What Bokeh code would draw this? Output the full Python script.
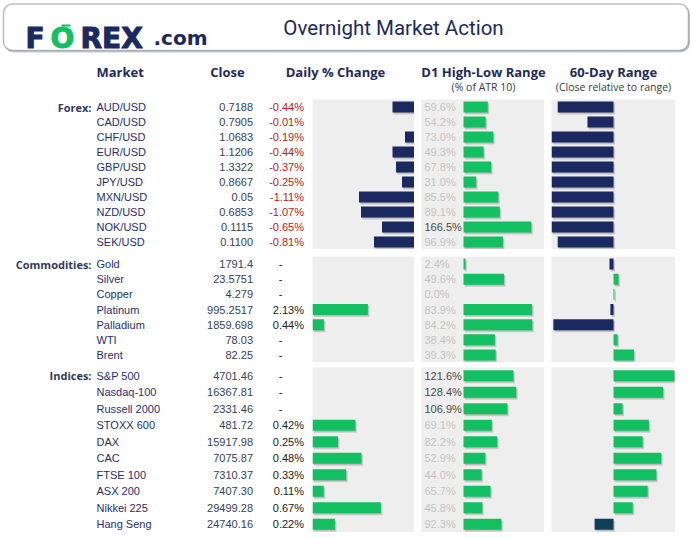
from bokeh.plotting import figure
from bokeh.layouts import column, row
from bokeh.models import Spacer, BoxAnnotation, ColumnDataSource, Range1d
from bokeh.transform import dodge
from bokeh.core.properties import value
from bokeh.embed import file_html
from bokeh.resources import INLINE

# ---------------- data ----------------
fx_names = ["AUD/USD", "CAD/USD", "CHF/USD", "EUR/USD", "GBP/USD",
            "JPY/USD", "MXN/USD", "NZD/USD", "NOK/USD", "SEK/USD"]
fx_close = ["0.7188", "0.7905", "1.0683", "1.1206", "1.3322",
            "0.8667", "0.05", "0.6853", "0.1115", "0.1100"]
fx_chg = [-0.44, -0.01, -0.19, -0.44, -0.37, -0.25, -1.11, -1.07, -0.65, -0.81]
fx_d1 = [59.6, 54.2, 73.0, 49.3, 67.8, 31.0, 85.5, 89.1, 166.5, 96.9]
fx_60d = [-90, -42, -100, -100, -100, -100, -100, -100, -100, -90]

cm_names = ["Gold", "Silver", "Copper", "Platinum", "Palladium", "WTI", "Brent"]
cm_close = ["1791.4", "23.5751", "4.279", "995.2517", "1859.698", "78.03", "82.25"]
cm_chg = [None, None, None, 2.13, 0.44, None, None]
cm_d1 = [2.4, 49.6, 0.0, 83.9, 84.2, 38.4, 39.3]
cm_60d = [-6.5, 8, 1.5, -5, -97, 6.5, 33]

ix_names = ["S&P 500", "Nasdaq-100", "Russell 2000", "STOXX 600", "DAX", "CAC",
            "FTSE 100", "ASX 200", "Nikkei 225", "Hang Seng"]
ix_close = ["4701.46", "16367.81", "2331.46", "481.72", "15917.98", "7075.87",
            "7310.37", "7407.30", "29499.28", "24740.16"]
ix_chg = [None, None, None, 0.42, 0.25, 0.48, 0.33, 0.11, 0.67, 0.22]
ix_d1 = [121.6, 128.4, 106.9, 69.1, 82.2, 52.9, 44.0, 65.7, 45.8, 92.3]
ix_60d = [98, 80, 14.5, 57, 47, 77, 69, 55, 31, -30.5]

section_labels = ["Forex:", "Commodities:", "Indices:"]
col_headers = ["Market", "Close", "Daily % Change", "D1 High-Low Range", "60-Day Range"]
col_subheaders = ["(% of ATR 10)", "(Close relative to range)"]
title_text = "Overnight Market Action"

# ---------------- style ----------------
NAVY = "#1b2961"
GREEN = "#12c062"
PANEL = "#eeeeee"
HEAD = "#1d2a5c"
SPECIAL_60D = {"Hang Seng": "#0f3f58"}
SANS = value("Liberation Sans")
OPEN = value("Open Sans")
DJ = value("DejaVu Sans")

W_LEFT, W_DAY, W_D1, W_60 = 312, 102, 123, 124
GAP = 7
TW = 690


def base_fig(w, h, xr, yr, bg="white"):
    p = figure(width=w, height=h, x_range=xr, y_range=yr, output_backend="svg",
               toolbar_location=None, min_border=0, x_axis_location=None,
               y_axis_location=None)
    p.grid.visible = False
    p.outline_line_color = None
    p.background_fill_color = bg
    p.border_fill_color = "white"
    return p


def bars(p, src, field, color, ppu, rowpx, barpx=11):
    h = barpx / rowpx
    dx = 1.5 / ppu
    dy = 2.0 / rowpx
    p.hbar(y=dodge("y", dy), left=dx, right=dodge(field, dx), height=h, source=src,
           fill_color="#5a5a5a", fill_alpha=0.22, line_color=None)
    p.hbar(y=dodge("y", dy * 0.5), left=dx * 0.5, right=dodge(field, dx * 0.5), height=h,
           source=src, fill_color="#5a5a5a", fill_alpha=0.18, line_color=None)
    p.hbar(y="y", left=0, right=field, height=h, source=src, fill_color=color,
           line_color=None)


def section(label, names, close, chg, d1, r60, height, day_ppu, day_neg, d1_ppu):
    n = len(names)
    rowpx = height / n
    ys = list(range(n))

    def yr():
        return Range1d(n - 0.5, -0.5)

    # left text block
    left = base_fig(W_LEFT, height, Range1d(0, W_LEFT), yr())
    left.text(x=[91], y=[0], text=[label], text_font=OPEN, text_font_style="bold",
              text_font_size="11px", text_color="#2f385f", text_align="right",
              text_baseline="middle")
    src = ColumnDataSource(dict(y=ys, name=names, close=close))
    left.text(x=96, y="y", text="name", source=src, text_font=SANS,
              text_font_size="11px", text_color="#1f2f6e", text_align="left",
              text_baseline="middle")
    left.text(x=252.5, y="y", text="close", source=src, text_font=SANS,
              text_font_size="11px", text_color="#363d5a", text_align="right",
              text_baseline="middle")
    have = [i for i in ys if chg[i] is not None]
    miss = [i for i in ys if chg[i] is None]
    src_c = ColumnDataSource(dict(y=have, t=["%.2f%%" % chg[i] for i in have],
                                  c=["#c0141c" if chg[i] < 0 else "#1a1a1a" for i in have]))
    left.text(x=303.5, y="y", text="t", source=src_c, text_font=SANS,
              text_font_size="11px", text_color="c", text_align="right",
              text_baseline="middle")
    if miss:
        src_m = ColumnDataSource(dict(y=miss, t=["-"] * len(miss)))
        left.text(x=280, y="y", text="t", source=src_m, text_font=SANS,
                  text_font_size="11px", text_color="#1a1a1a", text_align="center",
                  text_baseline="middle")

    # daily change panel
    span = W_DAY / day_ppu
    xr = Range1d(-span, 0) if day_neg else Range1d(0, span)
    day = base_fig(W_DAY, height, xr, yr(), PANEL)
    src_d = ColumnDataSource(dict(y=have, v=[chg[i] for i in have]))
    bars(day, src_d, "v", NAVY if day_neg else GREEN, day_ppu, rowpx)

    # D1 high-low panel
    zero_px = 42
    d1f = base_fig(W_D1, height, Range1d(-zero_px / d1_ppu, (W_D1 - zero_px) / d1_ppu),
                   yr(), PANEL)
    src_1 = ColumnDataSource(dict(y=ys, v=d1, t=["%.1f%%" % v for v in d1],
                                  c=["#4a4a4a" if v > 100 else "#c4c4c4" for v in d1]))
    bars(d1f, src_1, "v", GREEN, d1_ppu, rowpx)
    d1f.text(x=0, y="y", text="t", source=src_1, x_offset=-39, text_font=SANS,
             text_font_size="11px", text_color="c", text_align="left",
             text_baseline="middle")

    # 60-day range panel
    p60 = base_fig(W_60, height, Range1d(-100, 100), yr(), PANEL)
    cols = [SPECIAL_60D.get(names[i], NAVY if r60[i] < 0 else GREEN) for i in ys]
    src_6 = ColumnDataSource(dict(y=ys, v=r60, col=cols))
    bars(p60, src_6, "v", "col", W_60 / 200.0, rowpx)

    return row(left, day, Spacer(width=GAP, height=height), d1f,
               Spacer(width=GAP, height=height), p60)


# ---------------- header ----------------
HH = 53
hdr = base_fig(TW, HH, Range1d(0, TW), Range1d(HH, 0))
hdr.add_layout(BoxAnnotation(left=4.5, right=689.5, top=5, bottom=52, fill_color="#8a8a8a",
                             fill_alpha=0.45, line_color=None, border_radius=9,
                             level="underlay"))
hdr.add_layout(BoxAnnotation(left=3, right=688, top=3.5, bottom=50, fill_color="white",
                             fill_alpha=1, line_color="#22304f", line_width=1.6,
                             border_radius=9, level="underlay"))
# logo: F, green O (with its two bars), REX
hdr.segment(x0=[61, 61], y0=[25, 29.5], x1=[70, 70], y1=[25, 29.5],
            line_color=GREEN, line_width=2.2)
hdr.text(x=[25], y=[37.5], text=["F"], text_color=NAVY, text_outline_color=NAVY,
         text_font=DJ, text_font_style="bold", text_font_size="28px",
         text_align="left", text_baseline="alphabetic")
hdr.text(x=[62], y=[37.5], text=["O"], text_color=GREEN, text_outline_color=GREEN,
         text_font=DJ, text_font_style="bold", text_font_size="28px",
         text_align="center", text_baseline="alphabetic")
hdr.text(x=[80], y=[37.5], text=["REX"], text_color=NAVY, text_outline_color=NAVY,
         text_font=DJ, text_font_style="bold", text_font_size="28px",
         text_align="left", text_baseline="alphabetic")
hdr.text(x=[153], y=[37], text=[".com"], text_color=NAVY, text_font=DJ,
         text_font_style="bold", text_font_size="20px", text_align="left",
         text_baseline="alphabetic")
hdr.text(x=[393], y=[27], text=[title_text], text_color=HEAD, text_font=value("Roboto"),
         text_font_size="20.5px", text_align="center", text_baseline="middle")

# ---------------- column headers ----------------
CH = 46
ch = base_fig(TW, CH, Range1d(0, TW), Range1d(CH, 0))
ch.text(x=[96, 227, 335, 483, 613], y=[18.5] * 5, text=col_headers,
        text_align=["left", "center", "center", "center", "center"],
        text_color=HEAD, text_font=OPEN, text_font_style="bold",
        text_font_size="13px", text_baseline="middle")
ch.text(x=[483, 613], y=[33.5] * 2, text=col_subheaders, text_align="center",
        text_color="#3a3a3a", text_font=OPEN, text_font_size="10.5px",
        text_baseline="middle")

fx = section(section_labels[0], fx_names, fx_close, fx_chg, fx_d1, fx_60d, 150, 50.0, True, 0.407)
cm = section(section_labels[1], cm_names, cm_close, cm_chg, cm_d1, cm_60d, 106, 26.0, False, 0.817)
ix = section(section_labels[2], ix_names, ix_close, ix_chg, ix_d1, ix_60d, 165, 102.0, False, 0.41)

layout = column(hdr, ch, fx, Spacer(width=TW, height=7), cm, Spacer(width=TW, height=5), ix)

open("out.html", "w").write(file_html(layout, INLINE))
